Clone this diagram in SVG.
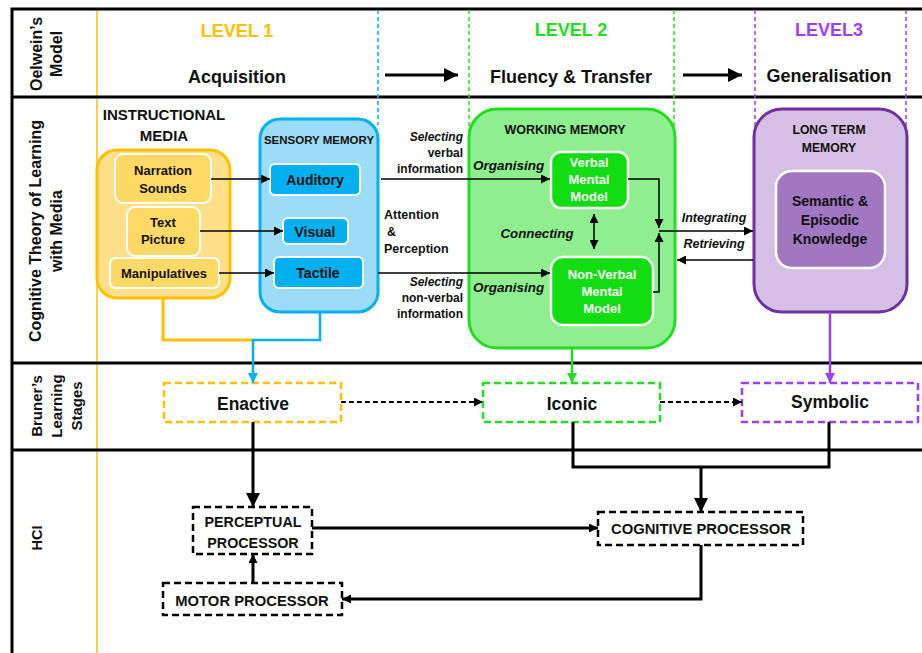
<svg xmlns="http://www.w3.org/2000/svg" width="922" height="653" viewBox="0 0 922 653">
<defs>
<style>
text{font-family:"Liberation Sans",Arial,sans-serif;font-weight:bold;fill:#111}
.it{font-style:italic}
.c{text-anchor:middle}
.r{text-anchor:end}
.frame{stroke:#000;stroke-width:3;fill:none}
.thin{stroke:#000;stroke-width:1.5;fill:none}
.thick{stroke:#000;stroke-width:3;fill:none}
.dbox{fill:#fff;stroke-width:2.5;stroke-dasharray:7 4}
.wt{fill:#fff}
</style>
<marker id="a" viewBox="0 0 10 10" refX="10" refY="5" markerWidth="9" markerHeight="9" markerUnits="userSpaceOnUse" orient="auto-start-reverse"><path d="M0,0L10,5L0,10z" fill="#000"/></marker>
<marker id="ab" viewBox="0 0 10 10" refX="10" refY="5" markerWidth="14" markerHeight="14" markerUnits="userSpaceOnUse" orient="auto"><path d="M0,0L10,5L0,10z" fill="#000"/></marker>
<marker id="ablue" viewBox="0 0 10 10" refX="10" refY="5" markerWidth="10" markerHeight="10" markerUnits="userSpaceOnUse" orient="auto"><path d="M0,0L10,5L0,10z" fill="#00B0F0"/></marker>
<marker id="agreen" viewBox="0 0 10 10" refX="10" refY="5" markerWidth="10" markerHeight="10" markerUnits="userSpaceOnUse" orient="auto"><path d="M0,0L10,5L0,10z" fill="#22DD22"/></marker>
<marker id="apurple" viewBox="0 0 10 10" refX="10" refY="5" markerWidth="10" markerHeight="10" markerUnits="userSpaceOnUse" orient="auto"><path d="M0,0L10,5L0,10z" fill="#9B3FFF"/></marker>
</defs>
<rect width="922" height="653" fill="#fff"/>

<g id="grid">
<line x1="97" y1="9" x2="97" y2="653" stroke="#FFC000" stroke-width="1.5"/>
<path class="frame" d="M922,9H12V653"/>
<line class="frame" x1="12" y1="97" x2="922" y2="97"/>
<line class="frame" x1="12" y1="363" x2="922" y2="363"/>
<line class="frame" x1="12" y1="450" x2="922" y2="450"/>
<line x1="378" y1="10" x2="378" y2="125" stroke="#00B0F0" stroke-width="1.5" stroke-dasharray="4 3"/>
<line x1="469" y1="10" x2="469" y2="130" stroke="#22DD22" stroke-width="1.5" stroke-dasharray="4 3"/>
<line x1="674" y1="10" x2="674" y2="130" stroke="#22DD22" stroke-width="1.5" stroke-dasharray="4 3"/>
<line x1="755" y1="10" x2="755" y2="130" stroke="#9B3FFF" stroke-width="1.5" stroke-dasharray="4 3"/>
<line x1="906" y1="10" x2="906" y2="130" stroke="#9B3FFF" stroke-width="1.5" stroke-dasharray="4 3"/>
</g>

<g id="row-labels">
<text transform="rotate(-90)" class="c" font-size="16"><tspan x="-54" y="42">Oelwein’s</tspan><tspan x="-54" y="62">Model</tspan></text>
<text transform="rotate(-90)" class="c" font-size="16"><tspan x="-231" y="41">Cognitive Theory of Learning</tspan><tspan x="-231" y="62">with Media</tspan></text>
<text transform="rotate(-90)" class="c" font-size="15"><tspan x="-406" y="42">Bruner’s</tspan><tspan x="-406" y="62">Learning</tspan><tspan x="-406" y="82">Stages</tspan></text>
<text transform="rotate(-90)" class="c" font-size="14.5" x="-538" y="42">HCI</text>
</g>

<g id="header">
<text class="c" x="237" y="37" font-size="18" style="fill:#FFC000">LEVEL 1</text>
<text class="c" x="237" y="83" font-size="18">Acquisition</text>
<text class="c" x="571" y="36" font-size="18" style="fill:#22DD22">LEVEL 2</text>
<text class="c" x="571" y="83" font-size="18">Fluency &amp; Transfer</text>
<text class="c" x="829" y="36" font-size="18" style="fill:#9B3FFF">LEVEL3</text>
<text class="c" x="829" y="82" font-size="18">Generalisation</text>
</g>

<g id="instructional-media">
<text class="c" x="164" y="120" font-size="15">INSTRUCTIONAL</text>
<text class="c" x="164" y="141" font-size="15">MEDIA</text>
<rect x="97" y="150" width="133" height="148" rx="20" fill="#FFE08A" stroke="#FFC000" stroke-width="3"/>
</g>
<g id="narration">
<rect x="115" y="154" width="96" height="49" rx="8" fill="#FFD966" stroke="#fff" stroke-width="2"/>
<text class="c" x="163" y="175" font-size="13">Narration</text>
<text class="c" x="163" y="193" font-size="13">Sounds</text>
</g>
<g id="text-picture">
<rect x="127" y="207" width="73" height="49" rx="8" fill="#FFD966" stroke="#fff" stroke-width="2"/>
<text class="c" x="163" y="227" font-size="13">Text</text>
<text class="c" x="163" y="244" font-size="13">Picture</text>
</g>
<g id="manipulatives">
<rect x="110" y="258" width="109" height="30" rx="6" fill="#FFD966" stroke="#fff" stroke-width="2"/>
<text class="c" x="164" y="278" font-size="13">Manipulatives</text>
</g>

<g id="sensory-memory">
<rect x="260" y="119" width="118" height="193" rx="20" fill="#9DDCF7" stroke="#00B0F0" stroke-width="3"/>
<text class="c" x="319" y="144" font-size="11.5">SENSORY MEMORY</text>
</g>
<g id="auditory">
<rect x="270" y="164" width="90" height="31" rx="5" fill="#00B0F0" stroke="#fff" stroke-width="2"/>
<text class="c" x="315" y="185" font-size="14">Auditory</text>
</g>
<g id="visual">
<rect x="283" y="218" width="65" height="26" rx="5" fill="#00B0F0" stroke="#fff" stroke-width="2"/>
<text class="c" x="315" y="237" font-size="14">Visual</text>
</g>
<g id="tactile">
<rect x="274" y="257" width="89" height="31" rx="5" fill="#00B0F0" stroke="#fff" stroke-width="2"/>
<text class="c" x="318" y="278" font-size="14">Tactile</text>
</g>

<g id="working-memory">
<rect x="469" y="109" width="206" height="239" rx="28" fill="#8FEF8F" stroke="#22DD22" stroke-width="3"/>
<text class="c" x="565" y="134" font-size="12.5">WORKING MEMORY</text>
</g>
<g id="verbal-model">
<rect x="551" y="152" width="77" height="56" rx="10" fill="#11DD11" stroke="#fff" stroke-width="2.5"/>
<text class="c wt" x="589" y="167" font-size="13">Verbal</text>
<text class="c wt" x="589" y="184" font-size="13">Mental</text>
<text class="c wt" x="589" y="201" font-size="13">Model</text>
</g>
<g id="nonverbal-model">
<rect x="551" y="257" width="102" height="68" rx="12" fill="#11DD11" stroke="#fff" stroke-width="2.5"/>
<text class="c wt" x="602" y="279" font-size="13">Non-Verbal</text>
<text class="c wt" x="602" y="296" font-size="13">Mental</text>
<text class="c wt" x="602" y="313" font-size="13">Model</text>
</g>

<g id="long-term-memory">
<rect x="754" y="109" width="153" height="203" rx="28" fill="#D5BFE5" stroke="#7030A0" stroke-width="3"/>
<text class="c" x="829" y="134" font-size="12.2">LONG TERM</text>
<text class="c" x="829" y="152" font-size="12.2">MEMORY</text>
</g>
<g id="semantic">
<rect x="776" y="171" width="109" height="97" rx="16" fill="#A077C0" stroke="#fff" stroke-width="2.5"/>
<text class="c" x="830" y="206" font-size="14">Semantic &amp;</text>
<text class="c" x="830" y="225" font-size="14">Episodic</text>
<text class="c" x="830" y="244" font-size="14">Knowledge</text>
</g>

<g id="labels">
<text class="r it" x="463" y="141" font-size="12">Selecting</text>
<text class="r" x="463" y="157" font-size="12">verbal</text>
<text class="r" x="463" y="173" font-size="12">information</text>
<text x="384" y="219" font-size="12.5">Attention</text>
<text x="387" y="236" font-size="12.5">&amp;</text>
<text x="384" y="253" font-size="12.5">Perception</text>
<text class="r it" x="463" y="286" font-size="12">Selecting</text>
<text class="r" x="463" y="302" font-size="12">non-verbal</text>
<text class="r" x="463" y="318" font-size="12">information</text>
<text class="it" x="473" y="170" font-size="13.5">Organising</text>
<text class="it" x="473" y="292" font-size="13.5">Organising</text>
<text class="it c" x="537" y="238" font-size="13.3">Connecting</text>
<text class="it c" x="714" y="222" font-size="12.5">Integrating</text>
<text class="it c" x="714" y="248" font-size="12.5">Retrieving</text>
</g>

<g id="enactive">
<rect class="dbox" x="164" y="383" width="177" height="39" stroke="#FFC000"/>
<text class="c" x="253" y="410" font-size="17.5">Enactive</text>
</g>
<g id="iconic">
<rect class="dbox" x="483" y="383" width="177" height="39" stroke="#22DD22"/>
<text class="c" x="572" y="410" font-size="17.5">Iconic</text>
</g>
<g id="symbolic">
<rect class="dbox" x="742" y="383" width="176" height="39" stroke="#9B3FFF"/>
<text class="c" x="830" y="408" font-size="17.5">Symbolic</text>
</g>

<g id="perceptual-processor">
<rect class="dbox" x="193" y="507" width="119" height="47" stroke="#000"/>
<text class="c" x="253" y="527" font-size="14.3">PERCEPTUAL</text>
<text class="c" x="253" y="548" font-size="14.3">PROCESSOR</text>
</g>
<g id="cognitive-processor">
<rect class="dbox" x="598" y="512" width="205" height="33" stroke="#000"/>
<text class="c" x="701" y="534" font-size="14.8">COGNITIVE PROCESSOR</text>
</g>
<g id="motor-processor">
<rect class="dbox" x="163" y="583" width="179" height="32" stroke="#000"/>
<text class="c" x="252" y="606" font-size="14.8">MOTOR PROCESSOR</text>
</g>

<g id="connectors">
<line class="thick" x1="385" y1="75" x2="458" y2="75" stroke-width="2.5" marker-end="url(#ab)"/>
<line class="thick" x1="683" y1="75" x2="742" y2="75" stroke-width="2.5" marker-end="url(#ab)"/>
<line class="thin" x1="211" y1="179" x2="270" y2="179" marker-end="url(#a)"/>
<line class="thin" x1="200" y1="231" x2="283" y2="231" marker-end="url(#a)"/>
<line class="thin" x1="219" y1="273" x2="274" y2="273" marker-end="url(#a)"/>
<line class="thin" x1="381" y1="179" x2="550" y2="179" marker-end="url(#a)"/>
<line class="thin" x1="378" y1="273" x2="550" y2="273" marker-end="url(#a)"/>
<line class="thin" x1="594" y1="214" x2="594" y2="249" marker-start="url(#a)" marker-end="url(#a)"/>
<path class="thin" d="M628,179H659V228" marker-end="url(#a)"/>
<path class="thin" d="M653,292H659V233" marker-end="url(#a)"/>
<line class="thin" x1="659" y1="231" x2="753" y2="231" marker-end="url(#a)"/>
<line class="thin" x1="753" y1="260" x2="677" y2="260" marker-end="url(#a)"/>
<path d="M163,298V340H253" fill="none" stroke="#FFC000" stroke-width="3"/>
<path d="M320,312V340H253V383" fill="none" stroke="#00B0F0" stroke-width="2.5" marker-end="url(#ablue)"/>
<line x1="572" y1="348" x2="572" y2="383" stroke="#22DD22" stroke-width="2.5" marker-end="url(#agreen)"/>
<line x1="830" y1="312" x2="830" y2="383" stroke="#9B3FFF" stroke-width="2.5" marker-end="url(#apurple)"/>
<line x1="341" y1="402" x2="483" y2="402" stroke="#000" stroke-width="1.8" stroke-dasharray="5 3" marker-end="url(#a)"/>
<line x1="660" y1="402" x2="742" y2="402" stroke="#000" stroke-width="1.8" stroke-dasharray="5 3" marker-end="url(#a)"/>
<line class="thick" x1="253" y1="422" x2="253" y2="507" marker-end="url(#ab)"/>
<path class="thick" d="M573,422V467H829V422"/>
<line class="thick" x1="701" y1="467" x2="701" y2="512" marker-end="url(#ab)"/>
<line class="thick" x1="312" y1="528" x2="598" y2="528" marker-end="url(#a)"/>
<path class="thick" d="M701,545V599H342" marker-end="url(#a)"/>
<line class="thick" x1="253" y1="583" x2="253" y2="554" marker-end="url(#a)"/>
</g>
</svg>
